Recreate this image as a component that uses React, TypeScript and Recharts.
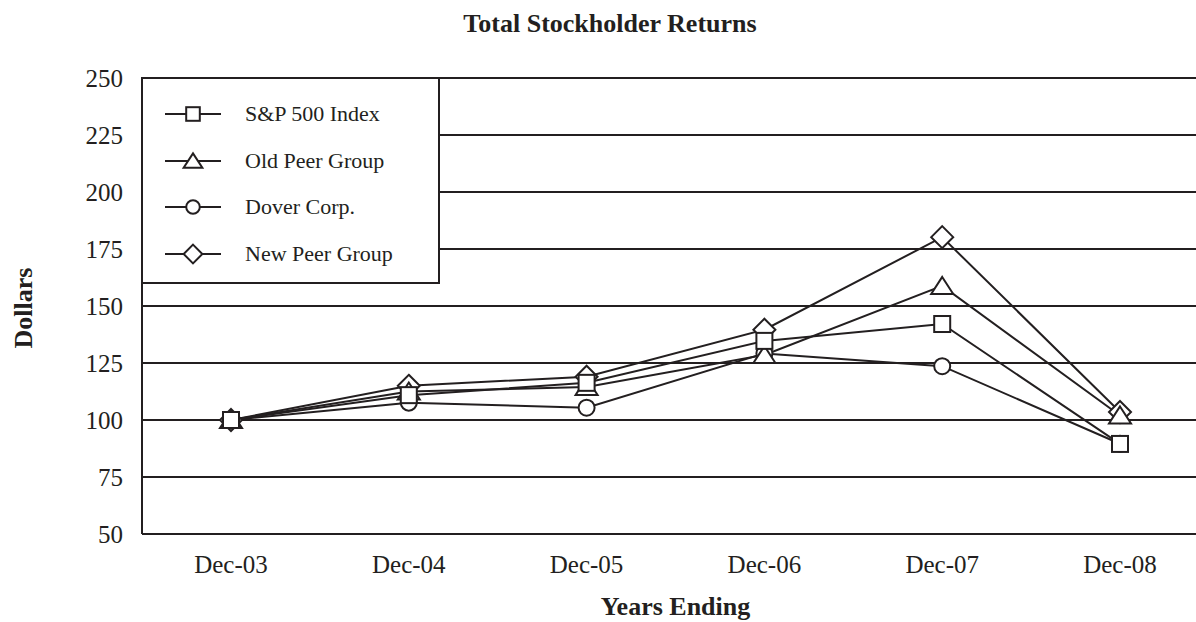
import React from 'react';
import { LineChart, Line, XAxis, YAxis, CartesianGrid } from 'recharts';

const INK = '#231f20';
const FONT = '"Liberation Serif", "Times New Roman", serif';

const years = ['Dec-03', 'Dec-04', 'Dec-05', 'Dec-06', 'Dec-07', 'Dec-08'];
const sp500 = [100, 110.9, 116.3, 134.7, 142.1, 89.5];
const oldPeer = [100, 112.5, 114.5, 128.5, 158.8, 102];
const dover = [100, 107.6, 105.4, 129.2, 123.6, 89.6];
const newPeer = [100, 115, 119, 139.6, 180.2, 103.5];
const yTicks = [50, 75, 100, 125, 150, 175, 200, 225, 250];

const data = years.map((year, i) => ({
  year,
  sp500: sp500[i],
  oldPeer: oldPeer[i],
  dover: dover[i],
  newPeer: newPeer[i],
}));

type Marker = 'square' | 'triangle' | 'circle' | 'diamond';

// one marker shape, reused for the dots and the legend (s = scale)
const markerPath = (kind: Marker, cx: number, cy: number, s = 1) => {
  switch (kind) {
    case 'square':
      return <rect x={cx - 8 * s} y={cy - 8 * s} width={16 * s} height={16 * s} fill="#fff" stroke={INK} strokeWidth={2} />;
    case 'triangle':
      return (
        <polygon
          points={`${cx},${cy - 9 * s} ${cx + 11 * s},${cy + 8 * s} ${cx - 11 * s},${cy + 8 * s}`}
          fill="#fff"
          stroke={INK}
          strokeWidth={2}
        />
      );
    case 'circle':
      return <circle cx={cx} cy={cy} r={8 * s} fill="#fff" stroke={INK} strokeWidth={2} />;
    default:
      return (
        <polygon
          points={`${cx},${cy - 11 * s} ${cx + 11 * s},${cy} ${cx},${cy + 11 * s} ${cx - 11 * s},${cy}`}
          fill="#fff"
          stroke={INK}
          strokeWidth={2}
        />
      );
  }
};

const makeDot = (kind: Marker) => (props: any) => {
  const { cx, cy, index } = props;
  if (cx == null || cy == null) return <g key={index} />;
  return <g key={`${kind}-${index}`}>{markerPath(kind, cx, cy)}</g>;
};

// drawing order matters: later series sit on top
const series: { key: string; name: string; marker: Marker }[] = [
  { key: 'newPeer', name: 'New Peer Group', marker: 'diamond' },
  { key: 'dover', name: 'Dover Corp.', marker: 'circle' },
  { key: 'oldPeer', name: 'Old Peer Group', marker: 'triangle' },
  { key: 'sp500', name: 'S&P 500 Index', marker: 'square' },
];
const legendOrder = ['sp500', 'oldPeer', 'dover', 'newPeer'];

const App: React.FC = () => {
  return (
    <div
      style={{
        position: 'absolute',
        left: 0,
        top: 0,
        width: 1196,
        height: 622,
        overflow: 'hidden',
        background: '#fff',
        fontFamily: FONT,
        color: INK,
      }}
    >
      <div
        style={{
          position: 'absolute',
          top: 9,
          left: 0,
          width: 1220,
          textAlign: 'center',
          fontWeight: 'bold',
          fontSize: 26,
          whiteSpace: 'nowrap',
        }}
      >
        Total Stockholder Returns
      </div>

      <div style={{ position: 'absolute', left: 0, top: 0 }}>
        <LineChart width={1220} height={622} data={data} margin={{ top: 78, right: 11, bottom: 58, left: 82 }}>
          <CartesianGrid vertical={false} stroke={INK} strokeWidth={2} />
          <XAxis
            dataKey="year"
            padding={{ left: 89, right: 89 }}
            axisLine={{ stroke: INK, strokeWidth: 2 }}
            tickLine={false}
            tickSize={0}
            tickMargin={21}
            tick={{ fill: INK, fontSize: 25, fontFamily: FONT }}
          />
          <YAxis
            type="number"
            width={60}
            domain={[50, 250]}
            ticks={yTicks}
            interval={0}
            axisLine={{ stroke: INK, strokeWidth: 2 }}
            tickLine={false}
            tickSize={0}
            tickMargin={19}
            tick={{ fill: INK, fontSize: 25, fontFamily: FONT }}
          />
          {series.map((s) => (
            <Line
              key={s.key}
              dataKey={s.key}
              name={s.name}
              stroke={INK}
              strokeWidth={2}
              dot={makeDot(s.marker)}
              activeDot={false}
              isAnimationActive={false}
            />
          ))}
        </LineChart>
      </div>

      {/* legend box */}
      <div
        style={{
          position: 'absolute',
          left: 141,
          top: 77,
          width: 295,
          height: 203,
          background: '#fff',
          border: `2px solid ${INK}`,
        }}
      >
        {legendOrder.map((k, i) => {
          const s = series.find((x) => x.key === k)!;
          return (
            <div
              key={k}
              style={{ position: 'absolute', left: 0, top: 20 + i * 46.7, height: 30, display: 'flex', alignItems: 'center' }}
            >
              <svg width={102} height={30} style={{ display: 'block' }}>
                <line x1={22} x2={78} y1={15} y2={15} stroke={INK} strokeWidth={2} />
                {markerPath(s.marker, 50, 15, 0.85)}
              </svg>
              <span style={{ fontSize: 22, whiteSpace: 'nowrap', lineHeight: '30px' }}>{s.name}</span>
            </div>
          );
        })}
      </div>

      <div
        style={{
          position: 'absolute',
          left: 24,
          top: 308,
          transform: 'translate(-50%, -50%) rotate(-90deg)',
          fontWeight: 'bold',
          fontSize: 26,
          whiteSpace: 'nowrap',
          lineHeight: '30px',
        }}
      >
        Dollars
      </div>
      <div
        style={{
          position: 'absolute',
          top: 592,
          left: 142,
          width: 1067,
          textAlign: 'center',
          fontWeight: 'bold',
          fontSize: 26,
          lineHeight: '30px',
          whiteSpace: 'nowrap',
        }}
      >
        Years Ending
      </div>
    </div>
  );
};

export default App;
